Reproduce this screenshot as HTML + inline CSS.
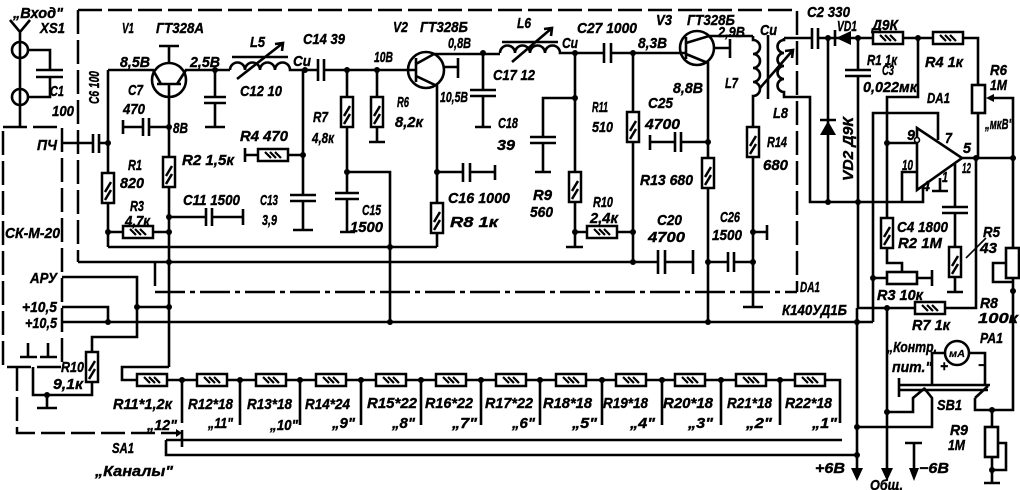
<!DOCTYPE html>
<html><head><meta charset="utf-8"><style>
html,body{margin:0;padding:0;background:#fff;}
svg{display:block}
text{font-family:"Liberation Sans",sans-serif;font-weight:bold;font-style:italic;font-size:15px;fill:#000;stroke:#000;stroke-width:0.4}
</style></head><body>
<svg width="1020" height="490" viewBox="0 0 1020 490" xmlns="http://www.w3.org/2000/svg">
<defs>
<g id="rv"><rect x="-6" y="-15" width="12" height="30" fill="#fff" stroke="#000" stroke-width="2.5"/><path d="M-3,4 L3,-6 M-3,12 L3,2" stroke="#000" stroke-width="2.5" fill="none"/></g>
<g id="rh"><rect x="-15" y="-6" width="30" height="12" fill="#fff" stroke="#000" stroke-width="2.5"/><path d="M-8,-3 L-2,3 M-3,-3 L3,3 M2,-3 L8,3" stroke="#000" stroke-width="2.2" fill="none"/></g>
</defs>

<!-- dashed boundaries -->
<g stroke="#000" stroke-width="2.5" fill="none" stroke-dasharray="24 6">
<path d="M78,10 H797 V292"/>
<path d="M78,10 V262"/>
<path d="M155,262 V292"/>
<rect x="3" y="127" width="59" height="240"/>
<path d="M17,367 V433 H178"/>
</g>
<path d="M155,292 H797" stroke="#000" stroke-width="2.5" fill="none" stroke-dasharray="30 5 5 5"/>

<g stroke="#000" stroke-width="2.6" fill="none">
<!-- antenna / input -->
<path d="M10,20 L20,32 L30,20 M20,32 V127"/>
<circle cx="20" cy="50" r="8"/><circle cx="20" cy="97" r="8"/>
<path d="M28,50 H50 V70 M36,70 H63 M36,77 H63 M28,97 H50 V77"/>
<path d="M62,143 H93 M93,134 V153 M99,134 V153 M99,143 H108"/>

<!-- V1 -->
<path d="M108,70 V247 M108,70 H153 L161,84"/>
<circle cx="169" cy="80" r="17"/>
<path d="M157,84 H181 M177,84 L186,70 H230 M169,63 V46 M159,46 H179 M169,84 V367"/>
<path d="M123,120 V134 M123,127 H143 M143,118 V136 M149,118 V136 M149,127 H169"/>
<path d="M169,217 H206 M206,208 V226 M212,208 V226 M212,217 H243 M243,209 V225"/>
<path d="M108,232 H169"/>
<path d="M108,247 H437"/>
<path d="M215,70 V97 M204,97 H226 M204,103 H226 M215,103 V127 M205,127 H225"/>
<!-- L5 -->
<path d="M230,70 a7.5,7.5 0 0 1 15,0 a7.5,7.5 0 0 1 15,0 a7.5,7.5 0 0 1 15,0 a7.5,7.5 0 0 1 15,0 H318"/>
<path d="M232,57 H288 M237,79 L283,43 M275,44 L283,43 L282,51"/>
<path d="M318,59 V81 M324,59 V81 M324,70 H416"/>
<path d="M303,70 V195 M290,195 H316 M290,201 H316 M303,201 V230 M293,230 H313"/>
<path d="M245,148 V162 M245,155 H303"/>
<path d="M347,70 V193 M335,193 H359 M335,199 H359 M347,199 V232 M340,232 H355"/>
<path d="M347,172 H390 V322"/>
<path d="M377,70 V142 M369,142 H385"/>
<!-- V2 -->
<circle cx="426" cy="70" r="18"/>
<path d="M416,58 V82 M416,64 L434,54 H500 M416,76 L437,86 V247 M443,67 H458 M458,58 V78"/>
<path d="M483,53 V90 M470,90 H496 M470,96 H496 M483,96 V127 M475,127 H491"/>
<path d="M437,172 H463 M463,163 V182 M470,163 V182 M470,172 H495 M495,165 V180"/>
<!-- L6 -->
<path d="M500,53 a7.5,7.5 0 0 1 15,0 a7.5,7.5 0 0 1 15,0 a7.5,7.5 0 0 1 15,0 a7.5,7.5 0 0 1 15,0 H604"/>
<path d="M502,42 H558 M512,62 L552,28 M544,29 L552,28 L551,36"/>
<path d="M604,43 V63 M611,43 V63 M611,53 H686"/>
<path d="M575,53 V247 M566,247 H583"/>
<path d="M575,98 H543 V137 M530,137 H556 M530,143 H556 M543,143 V172 M535,172 H551"/>
<path d="M575,232 H633"/>
<path d="M633,53 V262"/>
<path d="M78,262 H658 M658,250 V274 M665,250 V274 M665,262 H693 M693,250 V274"/>
<path d="M650,135 V150 M650,142 H675 M675,132 V152 M681,132 V152 M681,142 H708"/>
<!-- V3 -->
<circle cx="697" cy="48" r="17"/>
<path d="M686,37 V59 M686,43 L709,36 H753 M686,54 L708,63 V322 M714,48 H730 M730,39 V58"/>
<path d="M708,262 H728 M728,252 V272 M734,252 V272 M734,262 H753"/>
<!-- L7 L8 -->
<path d="M753,36 V40 a7,7 0 0 1 0,14 a7,7 0 0 1 0,14 a7,7 0 0 1 0,14 a7,7 0 0 1 0,14 V307 M743,307 H763 M753,232 H767 M767,225 V240"/>
<path d="M768,35 V99"/>
<path d="M784,38 V40 a6.5,6.5 0 0 0 0,13 a6.5,6.5 0 0 0 0,13 a6.5,6.5 0 0 0 0,13 a6.5,6.5 0 0 0 0,13 V97 H810 V202 H923 V186"/>
<path d="M760,88 L793,50 M785,51 L793,50 L792,58"/>
<path d="M784,38 H812 M812,28 V49 M818,28 V49 M818,38 H873"/>
<path d="M835,30 V46"/>
<path d="M903,38 H933 M963,38 H978 V85 M978,113 V158"/>
<rect x="972" y="85" width="13" height="28" fill="#fff"/>
<path d="M1013,158 V98 H992"/>
<path d="M828,38 V202 M820,120 H836"/>
<path d="M858,38 V70 M845,70 H871 M845,76 H871 M858,76 V308 H976 V158"/>
<path d="M918,38 V97 H887 V263 H902 V272"/>
<path d="M887,143 H917 M917,172 H902 V202 M940,178 V190 M932,191 H948"/>
<path d="M873,322 V113 H938 V140"/>
<polygon points="917,128 962,158 917,190" fill="#fff"/>
<path d="M962,158 H1013"/>
<path d="M955,164 V207 M942,207 H968 M942,213 H968 M955,213 V292 M947,292 H963"/>
<path d="M966,258 L986,238" stroke-width="1.6"/>
<path d="M873,278 H932 M932,270 V286"/>
<rect x="887" y="272" width="30" height="12" fill="#fff"/>
<path d="M1013,158 V410 H975 V398 M1006,263 H993 V282 H1013"/>
<rect x="1006" y="248" width="13" height="30" fill="#fff"/>

<!-- supply / left -->
<path d="M62,322 H873"/>
<path d="M62,307 H108 V322 M137,307 H169"/>
<path d="M62,277 H137 V337 H92 V395 H33 V367 M47,395 V407 M37,408 H57"/>
<path d="M28,343 V357 M20,357 H37 M48,343 V357 M40,357 H57"/>

<!-- ladder -->
<path d="M169,367 H122 V380 H840 V423"/>
<path d="M182,380 V423 M240,380 V425 M300,380 V425 M361,380 V425 M421,380 V425 M481,380 V425 M540,380 V425 M602,380 V425 M662,380 V425 M721,380 V425 M780,380 V425"/>
<path d="M166,440 H842 M166,440 V455 H857 M182,430 V447"/>

<!-- right bottom -->
<path d="M857,308 V470 M857,427 H932 V398 L924,388"/>
<path d="M887,308 V470 M887,412 H913 V398 L925,388"/>
<path d="M899,378 V397 M899,385 H990 M899,390 H988"/>
<circle cx="957" cy="353" r="12"/>
<path d="M945,353 H932 V384 M969,353 H985 V386"/>
<path d="M975,398 L988,386"/>
<path d="M992,410 V427 M992,457 V483 M984,483 H1000 M999,443 H1006 V470 H992"/>
<rect x="985" y="427" width="13" height="30" fill="#fff"/>
<path d="M905,443 H922 M914,443 V470"/>
</g>

<!-- resistors -->
<use href="#rv" x="108" y="188"/>
<use href="#rv" x="169" y="172"/>
<use href="#rh" x="138" y="232"/>
<use href="#rh" x="273" y="155"/>
<use href="#rv" x="347" y="112"/>
<use href="#rv" x="377" y="112"/>
<use href="#rv" x="437" y="218"/>
<use href="#rv" x="575" y="187"/>
<use href="#rh" x="602" y="232"/>
<use href="#rv" x="633" y="127"/>
<use href="#rv" x="708" y="173"/>
<use href="#rv" x="753" y="142"/>
<use href="#rh" x="888" y="38"/>
<use href="#rh" x="948" y="38"/>
<use href="#rh" x="930" y="308"/>
<use href="#rv" x="887" y="233"/>
<use href="#rv" x="955" y="262"/>
<use href="#rv" x="92" y="367"/>
<use href="#rh" x="152" y="380"/>
<use href="#rh" x="212" y="380"/>
<use href="#rh" x="271" y="380"/>
<use href="#rh" x="331" y="380"/>
<use href="#rh" x="391" y="380"/>
<use href="#rh" x="451" y="380"/>
<use href="#rh" x="511" y="380"/>
<use href="#rh" x="571" y="380"/>
<use href="#rh" x="631" y="380"/>
<use href="#rh" x="690" y="380"/>
<use href="#rh" x="751" y="380"/>
<use href="#rh" x="810" y="380"/>

<!-- diodes, arrowheads -->
<g fill="#000" stroke="none">
<polygon points="836,38 851,31 851,45"/>
<polygon points="828,121 820,135 836,135"/>
<polygon points="986,98 994,94 994,102"/>
<polygon points="851,468 863,468 857,481"/>
<polygon points="881,468 893,468 887,481"/>
<polygon points="909,468 919,468 914,481"/>
<polygon points="182,433 176,429 176,437"/>
<circle cx="917" cy="140" r="2.5" fill="#fff" stroke="#000" stroke-width="1.6"/>
</g>

<!-- junction dots -->
<g fill="#000">
<circle cx="108" cy="143" r="3"/><circle cx="169" cy="127" r="3"/><circle cx="169" cy="217" r="3"/>
<circle cx="108" cy="232" r="3"/><circle cx="169" cy="232" r="3"/><circle cx="215" cy="70" r="3"/>
<circle cx="305" cy="70" r="3"/><circle cx="303" cy="155" r="3"/><circle cx="347" cy="70" r="3"/>
<circle cx="377" cy="70" r="3"/><circle cx="347" cy="172" r="3"/><circle cx="390" cy="247" r="3"/>
<circle cx="390" cy="322" r="3"/><circle cx="437" cy="172" r="3"/><circle cx="483" cy="53" r="3"/>
<circle cx="575" cy="53" r="3"/><circle cx="575" cy="98" r="3"/><circle cx="575" cy="232" r="3"/>
<circle cx="633" cy="53" r="3"/><circle cx="633" cy="232" r="3"/><circle cx="633" cy="262" r="3"/>
<circle cx="708" cy="142" r="3"/><circle cx="708" cy="262" r="3"/><circle cx="708" cy="322" r="3"/>
<circle cx="753" cy="262" r="3"/><circle cx="753" cy="232" r="3"/><circle cx="828" cy="38" r="3"/>
<circle cx="858" cy="38" r="3"/><circle cx="918" cy="38" r="3"/><circle cx="887" cy="143" r="3"/>
<circle cx="828" cy="202" r="3"/><circle cx="858" cy="202" r="3"/><circle cx="976" cy="158" r="3"/>
<circle cx="1013" cy="158" r="3"/><circle cx="873" cy="278" r="3"/><circle cx="887" cy="308" r="3"/>
<circle cx="857" cy="322" r="3"/><circle cx="857" cy="427" r="3"/><circle cx="887" cy="412" r="3"/>
<circle cx="992" cy="410" r="3"/><circle cx="992" cy="470" r="3"/><circle cx="1013" cy="291" r="3"/>
<circle cx="169" cy="262" r="3"/><circle cx="169" cy="307" r="3"/><circle cx="137" cy="307" r="3"/>
<circle cx="108" cy="322" r="3"/><circle cx="47" cy="395" r="3"/><circle cx="857" cy="455" r="3"/>
<circle cx="182" cy="380" r="3"/><circle cx="240" cy="380" r="3"/><circle cx="300" cy="380" r="3"/>
<circle cx="361" cy="380" r="3"/><circle cx="421" cy="380" r="3"/><circle cx="481" cy="380" r="3"/>
<circle cx="540" cy="380" r="3"/><circle cx="602" cy="380" r="3"/><circle cx="662" cy="380" r="3"/>
<circle cx="721" cy="380" r="3"/><circle cx="780" cy="380" r="3"/>
</g>

<!-- labels -->
<g>
<text x="13" y="18" textLength="50" lengthAdjust="spacingAndGlyphs">„Вход"</text>
<text x="40" y="33" textLength="25" lengthAdjust="spacingAndGlyphs">XS1</text>
<text x="50" y="96" textLength="14" lengthAdjust="spacingAndGlyphs">C1</text>
<text x="52" y="116" textLength="22" lengthAdjust="spacingAndGlyphs">100</text>
<text transform="translate(99,104) rotate(-90)" textLength="33" lengthAdjust="spacingAndGlyphs">C6 100</text>
<text x="37" y="150" textLength="20" lengthAdjust="spacingAndGlyphs">ПЧ</text>
<text x="5" y="238" textLength="55" lengthAdjust="spacingAndGlyphs">СК-М-20</text>
<text x="122" y="33" textLength="12" lengthAdjust="spacingAndGlyphs">V1</text>
<text x="156" y="33" textLength="48" lengthAdjust="spacingAndGlyphs">ГТ328А</text>
<text x="120" y="67" textLength="30" lengthAdjust="spacingAndGlyphs">8,5В</text>
<text x="190" y="67" textLength="30" lengthAdjust="spacingAndGlyphs">2,5В</text>
<text x="250" y="47" textLength="15" lengthAdjust="spacingAndGlyphs">L5</text>
<text x="293" y="66" textLength="18" lengthAdjust="spacingAndGlyphs">Cu</text>
<text x="303" y="44" textLength="42" lengthAdjust="spacingAndGlyphs">C14 39</text>
<text x="240" y="96" textLength="42" lengthAdjust="spacingAndGlyphs">C12 10</text>
<text x="128" y="95" textLength="15" lengthAdjust="spacingAndGlyphs">C7</text>
<text x="123" y="114" textLength="22" lengthAdjust="spacingAndGlyphs">470</text>
<text x="173" y="133" textLength="15" lengthAdjust="spacingAndGlyphs">8В</text>
<text x="240" y="141" textLength="48" lengthAdjust="spacingAndGlyphs">R4 470</text>
<text x="128" y="170" textLength="14" lengthAdjust="spacingAndGlyphs">R1</text>
<text x="120" y="188" textLength="24" lengthAdjust="spacingAndGlyphs">820</text>
<text x="182" y="165" textLength="52" lengthAdjust="spacingAndGlyphs">R2 1,5к</text>
<text x="313" y="122" textLength="15" lengthAdjust="spacingAndGlyphs">R7</text>
<text x="312" y="143" textLength="22" lengthAdjust="spacingAndGlyphs">4,8к</text>
<text x="183" y="205" textLength="57" lengthAdjust="spacingAndGlyphs">C11 1500</text>
<text x="130" y="211" textLength="14" lengthAdjust="spacingAndGlyphs">R3</text>
<text x="125" y="226" textLength="25" lengthAdjust="spacingAndGlyphs">4,7к</text>
<text x="260" y="205" textLength="18" lengthAdjust="spacingAndGlyphs">C13</text>
<text x="262" y="225" textLength="15" lengthAdjust="spacingAndGlyphs">3,9</text>
<text x="374" y="62" textLength="19" lengthAdjust="spacingAndGlyphs">10В</text>
<text x="393" y="32" textLength="15" lengthAdjust="spacingAndGlyphs">V2</text>
<text x="420" y="32" textLength="48" lengthAdjust="spacingAndGlyphs">ГТ328Б</text>
<text x="448" y="48" textLength="23" lengthAdjust="spacingAndGlyphs">0,8В</text>
<text x="517" y="28" textLength="14" lengthAdjust="spacingAndGlyphs">L6</text>
<text x="562" y="48" textLength="16" lengthAdjust="spacingAndGlyphs">Cu</text>
<text x="577" y="33" textLength="60" lengthAdjust="spacingAndGlyphs">C27 1000</text>
<text x="397" y="107" textLength="12" lengthAdjust="spacingAndGlyphs">R6</text>
<text x="395" y="127" textLength="28" lengthAdjust="spacingAndGlyphs">8,2к</text>
<text x="440" y="102" textLength="28" lengthAdjust="spacingAndGlyphs">10,5В</text>
<text x="493" y="80" textLength="42" lengthAdjust="spacingAndGlyphs">C17 12</text>
<text x="498" y="128" textLength="20" lengthAdjust="spacingAndGlyphs">C18</text>
<text x="497" y="150" textLength="18" lengthAdjust="spacingAndGlyphs">39</text>
<text x="592" y="112" textLength="16" lengthAdjust="spacingAndGlyphs">R11</text>
<text x="592" y="132" textLength="21" lengthAdjust="spacingAndGlyphs">510</text>
<text x="648" y="108" textLength="25" lengthAdjust="spacingAndGlyphs">C25</text>
<text x="645" y="129" textLength="35" lengthAdjust="spacingAndGlyphs">4700</text>
<text x="448" y="203" textLength="62" lengthAdjust="spacingAndGlyphs">C16 1000</text>
<text x="450" y="227" textLength="48" lengthAdjust="spacingAndGlyphs">R8 1к</text>
<text x="362" y="215" textLength="19" lengthAdjust="spacingAndGlyphs">C15</text>
<text x="350" y="232" textLength="33" lengthAdjust="spacingAndGlyphs">1500</text>
<text x="533" y="200" textLength="19" lengthAdjust="spacingAndGlyphs">R9</text>
<text x="530" y="217" textLength="23" lengthAdjust="spacingAndGlyphs">560</text>
<text x="593" y="207" textLength="20" lengthAdjust="spacingAndGlyphs">R10</text>
<text x="590" y="223" textLength="28" lengthAdjust="spacingAndGlyphs">2,4к</text>
<text x="640" y="185" textLength="53" lengthAdjust="spacingAndGlyphs">R13 680</text>
<text x="657" y="225" textLength="25" lengthAdjust="spacingAndGlyphs">C20</text>
<text x="648" y="242" textLength="37" lengthAdjust="spacingAndGlyphs">4700</text>
<text x="720" y="222" textLength="20" lengthAdjust="spacingAndGlyphs">C26</text>
<text x="712" y="240" textLength="30" lengthAdjust="spacingAndGlyphs">1500</text>
<text x="767" y="147" textLength="20" lengthAdjust="spacingAndGlyphs">R14</text>
<text x="763" y="170" textLength="25" lengthAdjust="spacingAndGlyphs">680</text>
<text x="656" y="25" textLength="16" lengthAdjust="spacingAndGlyphs">V3</text>
<text x="687" y="25" textLength="48" lengthAdjust="spacingAndGlyphs">ГТ328Б</text>
<text x="638" y="48" textLength="29" lengthAdjust="spacingAndGlyphs">8,3В</text>
<text x="718" y="37" textLength="27" lengthAdjust="spacingAndGlyphs">2,9В</text>
<text x="673" y="93" textLength="30" lengthAdjust="spacingAndGlyphs">8,8В</text>
<text x="760" y="35" textLength="17" lengthAdjust="spacingAndGlyphs">Cu</text>
<text x="725" y="88" textLength="13" lengthAdjust="spacingAndGlyphs">L7</text>
<text x="773" y="118" textLength="15" lengthAdjust="spacingAndGlyphs">L8</text>
<text x="807" y="17" textLength="43" lengthAdjust="spacingAndGlyphs">C2 330</text>
<text x="837" y="31" textLength="20" lengthAdjust="spacingAndGlyphs">VD1</text>
<text x="872" y="30" textLength="26" lengthAdjust="spacingAndGlyphs">Д9К</text>
<text x="867" y="65" textLength="30" lengthAdjust="spacingAndGlyphs">R1 1к</text>
<text x="925" y="67" textLength="38" lengthAdjust="spacingAndGlyphs">R4 1к</text>
<text x="882" y="75" textLength="12" lengthAdjust="spacingAndGlyphs">C3</text>
<text x="863" y="92" textLength="54" lengthAdjust="spacingAndGlyphs">0,022мк</text>
<text x="990" y="75" textLength="17" lengthAdjust="spacingAndGlyphs">R6</text>
<text x="990" y="90" textLength="17" lengthAdjust="spacingAndGlyphs">1M</text>
<text x="985" y="129" textLength="28" lengthAdjust="spacingAndGlyphs">„мкВ"</text>
<text x="927" y="103" textLength="23" lengthAdjust="spacingAndGlyphs">DA1</text>
<text transform="translate(853,181) rotate(-90)" textLength="64" lengthAdjust="spacingAndGlyphs">VD2 Д9К</text>
<text x="907" y="140" textLength="8" lengthAdjust="spacingAndGlyphs">9</text>
<text x="945" y="143" textLength="7" lengthAdjust="spacingAndGlyphs">7</text>
<text x="963" y="153" textLength="8" lengthAdjust="spacingAndGlyphs">5</text>
<text x="902" y="170" textLength="11" lengthAdjust="spacingAndGlyphs">10</text>
<text x="962" y="173" textLength="9" lengthAdjust="spacingAndGlyphs">12</text>
<text x="922" y="191" textLength="8" lengthAdjust="spacingAndGlyphs">4</text>
<text x="942" y="182" textLength="6" lengthAdjust="spacingAndGlyphs">1</text>
<text x="897" y="232" textLength="51" lengthAdjust="spacingAndGlyphs">C4 1800</text>
<text x="898" y="248" textLength="44" lengthAdjust="spacingAndGlyphs">R2 1M</text>
<text x="983" y="237" textLength="17" lengthAdjust="spacingAndGlyphs">R5</text>
<text x="980" y="253" textLength="17" lengthAdjust="spacingAndGlyphs">43</text>
<text x="877" y="300" textLength="46" lengthAdjust="spacingAndGlyphs">R3 10к</text>
<text x="912" y="330" textLength="38" lengthAdjust="spacingAndGlyphs">R7 1к</text>
<text x="980" y="308" textLength="18" lengthAdjust="spacingAndGlyphs">R8</text>
<text x="978" y="323" textLength="40" lengthAdjust="spacingAndGlyphs">100к</text>
<text x="980" y="343" textLength="23" lengthAdjust="spacingAndGlyphs">PA1</text>
<text x="949" y="357" style="font-size:10px;stroke-width:0.2" textLength="16" lengthAdjust="spacingAndGlyphs">мА</text>
<text x="940" y="371" textLength="8" lengthAdjust="spacingAndGlyphs">+</text>
<text x="978" y="370" textLength="8" lengthAdjust="spacingAndGlyphs">−</text>
<text x="887" y="352" textLength="50" lengthAdjust="spacingAndGlyphs">„Контр.</text>
<text x="892" y="372" textLength="40" lengthAdjust="spacingAndGlyphs">пит."</text>
<text x="937" y="410" textLength="25" lengthAdjust="spacingAndGlyphs">SB1</text>
<text x="950" y="435" textLength="18" lengthAdjust="spacingAndGlyphs">R9</text>
<text x="948" y="450" textLength="17" lengthAdjust="spacingAndGlyphs">1M</text>
<text x="815" y="473" textLength="30" lengthAdjust="spacingAndGlyphs">+6В</text>
<text x="870" y="490" textLength="33" lengthAdjust="spacingAndGlyphs">Общ.</text>
<text x="919" y="473" textLength="30" lengthAdjust="spacingAndGlyphs">−6В</text>
<text x="800" y="292" textLength="20" lengthAdjust="spacingAndGlyphs">DA1</text>
<text x="782" y="315" textLength="65" lengthAdjust="spacingAndGlyphs">К140УД1Б</text>
<text x="30" y="283" textLength="27" lengthAdjust="spacingAndGlyphs">АРУ</text>
<text x="22" y="312" textLength="35" lengthAdjust="spacingAndGlyphs">+10,5</text>
<text x="25" y="328" textLength="32" lengthAdjust="spacingAndGlyphs">+10,5</text>
<text x="61" y="372" textLength="23" lengthAdjust="spacingAndGlyphs">R10</text>
<text x="53" y="389" textLength="30" lengthAdjust="spacingAndGlyphs">9,1к</text>
<text x="113" y="409" textLength="59" lengthAdjust="spacingAndGlyphs">R11*1,2к</text>
<text x="188" y="409" textLength="45" lengthAdjust="spacingAndGlyphs">R12*18</text>
<text x="247" y="409" textLength="45" lengthAdjust="spacingAndGlyphs">R13*18</text>
<text x="305" y="409" textLength="45" lengthAdjust="spacingAndGlyphs">R14*24</text>
<text x="367" y="408" textLength="50" lengthAdjust="spacingAndGlyphs">R15*22</text>
<text x="425" y="408" textLength="48" lengthAdjust="spacingAndGlyphs">R16*22</text>
<text x="485" y="408" textLength="48" lengthAdjust="spacingAndGlyphs">R17*22</text>
<text x="543" y="408" textLength="49" lengthAdjust="spacingAndGlyphs">R18*18</text>
<text x="603" y="408" textLength="45" lengthAdjust="spacingAndGlyphs">R19*18</text>
<text x="663" y="408" textLength="50" lengthAdjust="spacingAndGlyphs">R20*18</text>
<text x="727" y="408" textLength="45" lengthAdjust="spacingAndGlyphs">R21*18</text>
<text x="785" y="408" textLength="47" lengthAdjust="spacingAndGlyphs">R22*18</text>
<text x="147" y="430" textLength="30" lengthAdjust="spacingAndGlyphs">„12"</text>
<text x="208" y="428" textLength="25" lengthAdjust="spacingAndGlyphs">„11"</text>
<text x="270" y="430" textLength="28" lengthAdjust="spacingAndGlyphs">„10"</text>
<text x="332" y="428" textLength="23" lengthAdjust="spacingAndGlyphs">„9"</text>
<text x="392" y="428" textLength="23" lengthAdjust="spacingAndGlyphs">„8"</text>
<text x="452" y="428" textLength="25" lengthAdjust="spacingAndGlyphs">„7"</text>
<text x="512" y="428" textLength="23" lengthAdjust="spacingAndGlyphs">„6"</text>
<text x="572" y="428" textLength="25" lengthAdjust="spacingAndGlyphs">„5"</text>
<text x="630" y="428" textLength="25" lengthAdjust="spacingAndGlyphs">„4"</text>
<text x="688" y="428" textLength="25" lengthAdjust="spacingAndGlyphs">„3"</text>
<text x="746" y="428" textLength="26" lengthAdjust="spacingAndGlyphs">„2"</text>
<text x="812" y="428" textLength="25" lengthAdjust="spacingAndGlyphs">„1"</text>
<text x="112" y="453" textLength="22" lengthAdjust="spacingAndGlyphs">SA1</text>
<text x="95" y="476" textLength="78" lengthAdjust="spacingAndGlyphs">„Каналы"</text>
</g>
</svg>
</body></html>
